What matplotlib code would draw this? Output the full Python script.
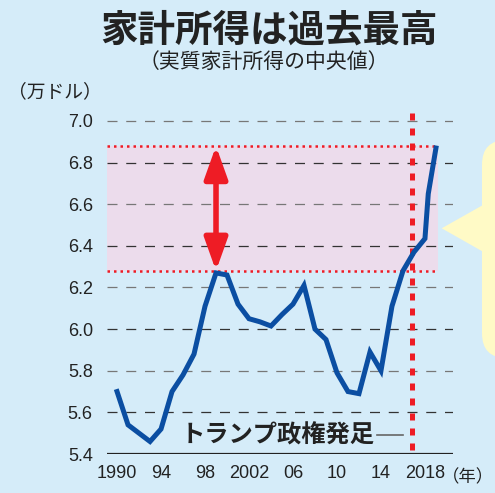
import matplotlib
matplotlib.use("Agg")
import matplotlib.pyplot as plt
from matplotlib.patches import FancyBboxPatch, Polygon

plt.rcParams['font.family'] = ['Noto Sans CJK JP', 'DejaVu Sans']

# 実質家計所得の中央値（万ドル）
years = [1990, 1991, 1992, 1993, 1994, 1995, 1996, 1997, 1998, 1999,
         2000, 2001, 2002, 2003, 2004, 2005, 2006, 2007, 2008, 2009,
         2010, 2011, 2012, 2013, 2014, 2015, 2016, 2017, 2018, 2018.3, 2019]
income = [5.70, 5.54, 5.50, 5.46, 5.52, 5.70, 5.78, 5.88, 6.11, 6.27,
          6.26, 6.12, 6.05, 6.035, 6.015, 6.07, 6.12, 6.21, 6.00, 5.95,
          5.79, 5.70, 5.69, 5.89, 5.80, 6.11, 6.28, 6.37, 6.435, 6.65, 6.87]

xticks = [1990, 1994, 1998, 2002, 2006, 2010, 2014, 2018]
xlabels = ['1990', '94', '98', '2002', '06', '10', '14', '2018']
yticks = [5.4, 5.6, 5.8, 6.0, 6.2, 6.4, 6.6, 6.8, 7.0]

trump_year = 2016.8
peak_1999 = 6.28
peak_2019 = 6.88

bg = '#d5ecf9'
W, H = 495, 493
fig = plt.figure(figsize=(W / 100, H / 100), dpi=100, facecolor=bg)
ax = fig.add_axes([106.7 / W, 0.0791, 346.3 / W, 0.6966])
ax.set_facecolor(bg)
ax.set_xlim(1989.06, 2020.55)
ax.set_ylim(5.4, 7.05)
for s in ax.spines.values():
    s.set_visible(False)

# 網掛け帯
ax.fill_between([1989.06, 2019.2], peak_1999, peak_2019, color='#ecdcec', lw=0, zorder=1)
ax.hlines([peak_1999, peak_2019], 1989.06, 2019.2, colors='#ee1c25', lw=1.8,
          linestyles=[(0, (1, 1.6))], zorder=2)

# 目盛り線
for i, v in enumerate(yticks[1:]):
    c = '#333333' if i % 2 == 0 else '#777777'
    ax.axhline(v, color=c, lw=0.9, dashes=(8, 7), zorder=2)
ax.axhline(5.4, color='#222222', lw=1.6, zorder=3)

ax.set_xticks(xticks)
ax.set_xticklabels(xlabels)
ax.set_yticks(yticks)
ax.set_yticklabels([f'{v:.1f}' for v in yticks])
ax.tick_params(length=0, labelsize=13, colors='#222222')
ax.tick_params(axis='x', pad=8)
ax.tick_params(axis='y', pad=10)
for lab in ax.get_xticklabels() + ax.get_yticklabels():
    lab.set_family(['Liberation Sans', 'DejaVu Sans'])

# トランプ政権発足
ax.plot([trump_year, trump_year], [5.42, 7.072], color='#ee1c25', lw=3.6,
        dashes=(1.4, 1.6), clip_on=False, zorder=4)

ax.plot(years, income, color='#0b4ea2', lw=3.6, solid_joinstyle='miter', zorder=5)

ax.annotate('', xy=(1999, peak_2019), xytext=(1999, peak_1999),
            arrowprops=dict(arrowstyle='<|-|>,head_length=1.4,head_width=0.5',
                            color='#ee1c25', lw=4, shrinkA=0, shrinkB=0,
                            mutation_scale=14), zorder=6)

ax.text(2013.45, 5.49, 'トランプ政権発足', ha='right', va='center', fontsize=17.5,
        fontweight='bold', color='#222222', zorder=6)
ax.plot([2013.6, 2016.0], [5.49, 5.49], color='#666666', lw=1.2, zorder=6)

# 吹き出し
box = FancyBboxPatch((482 / W, 135 / H), 60 / W, 218 / H,
                     boxstyle='round,pad=0,rounding_size=0.05',
                     transform=fig.transFigure, fc='#fffac6', ec='none')
fig.patches.append(box)
tri = Polygon([(441.7 / W, 264.7 / H), (483 / W, 288 / H), (483 / W, 241.3 / H)],
              closed=True, transform=fig.transFigure, fc='#fffac6', ec='none')
fig.patches.append(tri)

fig.text(269 / W, 1 - 30 / H, '家計所得は過去最高', ha='center', va='center',
         fontsize=27, fontweight='bold', color='#222222')
fig.text(264 / W, 1 - 62 / H, '（実質家計所得の中央値）', ha='center', va='center',
         fontsize=15, color='#222222')
fig.text(8 / W, 1 - 92 / H, '（万ドル）', ha='left', va='center',
         fontsize=13.5, color='#222222')
fig.text(494 / W, 1 - 477 / H, '（年）', ha='right', va='center',
         fontsize=12.5, color='#222222')

fig.savefig('out.png', dpi=100, facecolor=bg)
